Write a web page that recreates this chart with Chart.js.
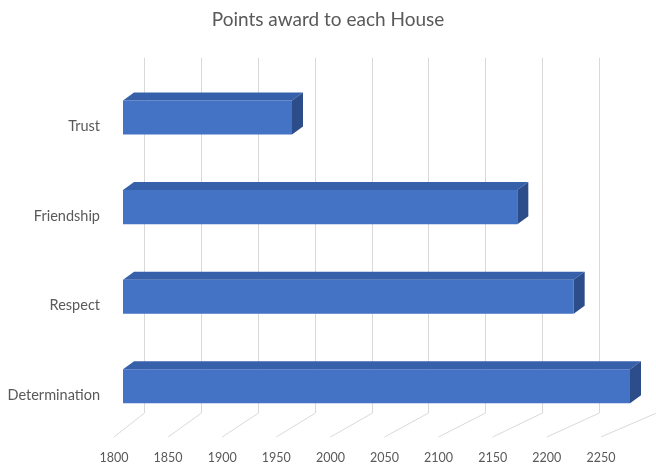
<!DOCTYPE html>
<html>
<head>
<meta charset="utf-8">
<script src="https://cdn.jsdelivr.net/npm/chart.js@4"></script>
<style>
  html, body { margin: 0; padding: 0; background: #fff; }
  #wrap { width: 656px; height: 466px; }
</style>
</head>
<body>
<div id="wrap"><canvas id="houseChart"></canvas></div>
<script>
const houses = ['Trust', 'Friendship', 'Respect', 'Determination'];
const points = [1950, 2150, 2200, 2250];
const tickValues = [1800, 1850, 1900, 1950, 2000, 2050, 2100, 2150, 2200, 2250];

const frontColor = '#4472c4';
const topColor = '#3760ab';
const sideColor = '#2c4d89';
const gridColor = '#d9d9d9';
const textColor = '#595959';
const depth = { dx: 11, dy: -8 };

// back wall + floor gridlines, drawn from the hidden back scale and the label scale
const wallGrid = {
  id: 'wallGrid',
  beforeDatasetsDraw(chart) {
    const { ctx, chartArea, scales } = chart;
    const top = chartArea.top - 15;
    const wallBottom = chartArea.bottom - 18;
    const floorFront = chartArea.bottom + 6;
    ctx.save();
    ctx.strokeStyle = gridColor;
    ctx.lineWidth = 1;
    tickValues.forEach(v => {
      const bx = Math.round(scales.xBack.getPixelForValue(v)) + 0.5;
      const fx = scales.xLab.getPixelForValue(v);
      ctx.beginPath();
      ctx.moveTo(bx, top);
      ctx.lineTo(bx, wallBottom);
      ctx.lineTo(fx, floorFront);
      ctx.stroke();
    });
    ctx.restore();
  }
};

// top and side faces of each bar
const barFaces = {
  id: 'barFaces',
  afterDatasetsDraw(chart) {
    const { ctx, chartArea } = chart;
    const meta = chart.getDatasetMeta(0);
    ctx.save();
    meta.data.forEach(bar => {
      const { x, y, base, height } = bar.getProps(['x', 'y', 'base', 'height'], true);
      const left = Math.max(base, chartArea.left);
      const t = y - height / 2;
      const b = y + height / 2;
      ctx.fillStyle = topColor;
      ctx.beginPath();
      ctx.moveTo(left, t);
      ctx.lineTo(left + depth.dx, t + depth.dy);
      ctx.lineTo(x + depth.dx, t + depth.dy);
      ctx.lineTo(x, t);
      ctx.closePath();
      ctx.fill();
      ctx.fillStyle = sideColor;
      ctx.beginPath();
      ctx.moveTo(x, t);
      ctx.lineTo(x + depth.dx, t + depth.dy);
      ctx.lineTo(x + depth.dx, b + depth.dy);
      ctx.lineTo(x, b);
      ctx.closePath();
      ctx.fill();
    });
    ctx.restore();
  }
};

const ctx = document.getElementById('houseChart').getContext('2d');

new Chart(ctx, {
  type: 'bar',
  data: {
    labels: houses,
    datasets: [{
      data: points,
      backgroundColor: frontColor,
      borderWidth: 0,
      categoryPercentage: 1,
      barPercentage: 0.38
    }]
  },
  options: {
    indexAxis: 'y',
    responsive: true,
    maintainAspectRatio: false,
    animation: false,
    layout: { padding: 0 },
    plugins: {
      legend: { display: false },
      tooltip: { enabled: false },
      title: {
        display: true,
        text: 'Points award to each House',
        color: textColor,
        font: { family: 'Lato', size: 19, weight: 'normal' },
        padding: { top: 8, bottom: 42 }
      }
    },
    scales: {
      x: {
        display: false,
        min: 1800,
        max: 2250
      },
      xBack: {
        type: 'linear',
        axis: 'x',
        position: 'bottom',
        display: false,
        min: 1781.6,
        max: 2227.1
      },
      xLab: {
        type: 'linear',
        axis: 'x',
        position: 'bottom',
        min: 1808.3,
        max: 2276.9,
        afterBuildTicks: s => { s.ticks = tickValues.map(v => ({ value: v })); },
        afterFit: s => { s.height = 35; },
        grid: { display: false, drawTicks: false },
        border: { display: false },
        ticks: {
          autoSkip: false,
          maxRotation: 0,
          padding: 19,
          color: textColor,
          font: { family: 'Lato', size: 12.5 },
          callback: v => String(v)
        }
      },
      y: {
        afterFit: s => { s.width = 123; },
        grid: { display: false, drawTicks: false },
        border: { display: false },
        ticks: {
          padding: 23,
          labelOffset: 9,
          color: textColor,
          font: { family: 'Lato', size: 14.5 }
        }
      },
      yRight: {
        type: 'category',
        axis: 'y',
        position: 'right',
        afterFit: s => { s.width = 26; },
        grid: { display: false, drawTicks: false },
        border: { display: false },
        ticks: { display: false }
      }
    }
  },
  plugins: [wallGrid, barFaces]
});
</script>
</body>
</html>
